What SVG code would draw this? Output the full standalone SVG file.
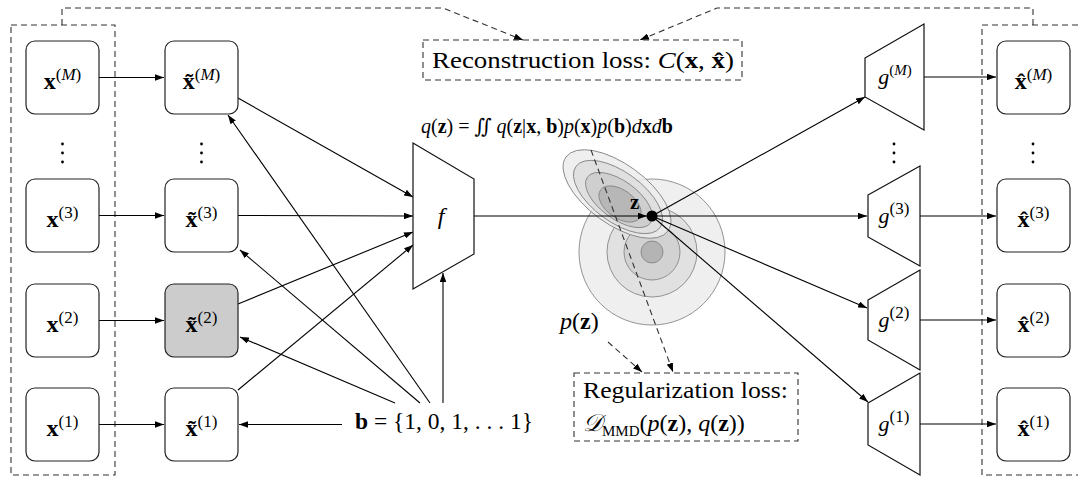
<svg xmlns="http://www.w3.org/2000/svg" width="1078" height="479" viewBox="0 0 1078 479">
<style>
text{font-family:"Liberation Serif","DejaVu Serif",serif;fill:#000}
.lbl{font-size:24px}
.sup{font-size:17px}
.gl{font-size:22px}
.gs{font-size:15px}
.b{font-weight:bold}
.i{font-style:italic}
.box{fill:#fff;stroke:#222;stroke-width:1.2}
.sel{fill:#cccccc}
.trap{fill:#fff;stroke:#111;stroke-width:1.2}
.dash{fill:none;stroke:#333;stroke-width:1.1;stroke-dasharray:6 4}
.ln{fill:none;stroke:#000;stroke-width:1.1}
.arr{marker-end:url(#ah)}
.dot{fill:#000}
.dist{stroke:#888;stroke-width:0.9}
</style>
<defs>
<marker id="ah" viewBox="0 0 10 10" refX="10" refY="5" markerWidth="9" markerHeight="6.5" markerUnits="userSpaceOnUse" orient="auto" preserveAspectRatio="none"><path d="M0,0 L10,5 L0,10 z" fill="#000"/></marker>
</defs>

<!-- dashed frames -->
<g id="frames">
<rect class="dash" x="11" y="25" width="104" height="450"/>
<rect class="dash" x="982" y="25" width="130" height="450"/>
</g>

<!-- distributions -->
<g id="pz">
<circle class="dist" cx="652" cy="252" r="73" fill="#efefef"/>
<circle class="dist" cx="652" cy="252" r="45" fill="#e1e1e1"/>
<circle class="dist" cx="652" cy="252" r="28" fill="#d2d2d2"/>
<circle class="dist" cx="652" cy="252" r="11" fill="#b4b4b4"/>
</g>
<g id="qz">
<ellipse class="dist" cx="617" cy="194" rx="63" ry="30" transform="rotate(36 617 194)" fill="#ececec" fill-opacity="0.85"/>
<ellipse class="dist" cx="618" cy="197" rx="52" ry="25" transform="rotate(36 618 197)" fill="#dddddd" fill-opacity="0.85"/>
<ellipse class="dist" cx="619" cy="200" rx="39" ry="19" transform="rotate(36 619 200)" fill="#cbcbcb" fill-opacity="0.85"/>
<ellipse class="dist" cx="620" cy="204" rx="24" ry="14" transform="rotate(36 620 204)" fill="#b3b3b3" fill-opacity="0.85"/>
</g>

<!-- connectors -->
<g id="connectors">
<path class="ln arr" d="M99,77.5 H164"/>
<path class="ln arr" d="M99,215.5 H164"/>
<path class="ln arr" d="M99,320.5 H164"/>
<path class="ln arr" d="M99,424.5 H164"/>
<path class="ln arr" d="M238,98 L413,197"/>
<path class="ln arr" d="M238,215.5 L413,216"/>
<path class="ln arr" d="M238,304 L413,232"/>
<path class="ln arr" d="M238,390 L413,245"/>
<path class="ln arr" d="M443,403 V273"/>
<path class="ln arr" d="M430,403 L228,115"/>
<path class="ln arr" d="M420,403 L240,250"/>
<path class="ln arr" d="M395,403 L240,337"/>
<path class="ln arr" d="M342,424.5 H239"/>
<path class="ln arr" d="M474,216 H647"/>
<path class="ln arr" d="M652,216 L865,97"/>
<path class="ln arr" d="M652,216 L867,216"/>
<path class="ln arr" d="M652,216 L867,308"/>
<path class="ln arr" d="M652,216 L868,402"/>
<path class="ln arr" d="M924,77 H996"/>
<path class="ln arr" d="M920,216 H996"/>
<path class="ln arr" d="M920,320 H996"/>
<path class="ln arr" d="M920,424 H996"/>
<path class="dash arr" d="M62,25 V8 H443 L523,40"/>
<path class="dash arr" d="M1033,25 V8 H717 L640,40"/>
<path class="dash arr" d="M591,150 L673,372"/>
<path class="dash arr" d="M608,342 L642,372"/>
</g>

<g id="z">
<circle cx="652" cy="216" r="5.5" fill="#000"/>
<text class="b" x="630" y="209" font-size="21">z</text>
</g>

<!-- input nodes -->
<g id="xM"><rect class="box" x="26" y="41" width="73" height="73" rx="9"/><text class="lbl" x="62.5" y="89" text-anchor="middle"><tspan class="b">x</tspan><tspan class="sup" dy="-9">(</tspan><tspan class="sup i">M</tspan><tspan class="sup">)</tspan></text></g>
<g id="x3"><rect class="box" x="26" y="179" width="73" height="73" rx="9"/><text class="lbl" x="62.5" y="227" text-anchor="middle"><tspan class="b">x</tspan><tspan class="sup" dy="-9">(3)</tspan></text></g>
<g id="x2"><rect class="box" x="26" y="284" width="73" height="73" rx="9"/><text class="lbl" x="62.5" y="332" text-anchor="middle"><tspan class="b">x</tspan><tspan class="sup" dy="-9">(2)</tspan></text></g>
<g id="x1"><rect class="box" x="26" y="388" width="73" height="73" rx="9"/><text class="lbl" x="62.5" y="436" text-anchor="middle"><tspan class="b">x</tspan><tspan class="sup" dy="-9">(1)</tspan></text></g>
<g id="xdots"><circle class="dot" cx="62.5" cy="144" r="1.4"/><circle class="dot" cx="62.5" cy="153" r="1.4"/><circle class="dot" cx="62.5" cy="162" r="1.4"/></g>

<!-- masked nodes -->
<g id="txM"><rect class="box" x="165" y="41" width="73" height="73" rx="9"/><text class="lbl" x="201.5" y="89" text-anchor="middle"><tspan class="b">x̃</tspan><tspan class="sup" dy="-9">(</tspan><tspan class="sup i">M</tspan><tspan class="sup">)</tspan></text></g>
<g id="tx3"><rect class="box" x="165" y="179" width="73" height="73" rx="9"/><text class="lbl" x="201.5" y="227" text-anchor="middle"><tspan class="b">x̃</tspan><tspan class="sup" dy="-9">(3)</tspan></text></g>
<g id="tx2"><rect class="box sel" x="165" y="284" width="73" height="73" rx="9"/><text class="lbl" x="201.5" y="332" text-anchor="middle"><tspan class="b">x̃</tspan><tspan class="sup" dy="-9">(2)</tspan></text></g>
<g id="tx1"><rect class="box" x="165" y="388" width="73" height="73" rx="9"/><text class="lbl" x="201.5" y="436" text-anchor="middle"><tspan class="b">x̃</tspan><tspan class="sup" dy="-9">(1)</tspan></text></g>
<g id="txdots"><circle class="dot" cx="201.5" cy="144" r="1.4"/><circle class="dot" cx="201.5" cy="153" r="1.4"/><circle class="dot" cx="201.5" cy="162" r="1.4"/></g>

<!-- encoder -->
<g id="f"><polygon class="trap" points="413,143 474,179 474,254 413,289"/><text class="lbl i" x="441" y="224" text-anchor="middle">f</text></g>

<!-- decoders -->
<g id="gM"><polygon class="trap" points="865,58 924,24 924,130 865,97"/><text class="gl" x="895" y="84" text-anchor="middle"><tspan class="i">g</tspan><tspan class="gs" dy="-9">(</tspan><tspan class="gs i">M</tspan><tspan class="gs">)</tspan></text></g>
<g id="g3"><polygon class="trap" points="868,195 920,166 920,266 868,237"/><text class="gl" x="894" y="223" text-anchor="middle"><tspan class="i">g</tspan><tspan class="sup" dy="-9">(3)</tspan></text></g>
<g id="g2"><polygon class="trap" points="868,300 920,270 920,370 868,340"/><text class="gl" x="894" y="327" text-anchor="middle"><tspan class="i">g</tspan><tspan class="sup" dy="-9">(2)</tspan></text></g>
<g id="g1"><polygon class="trap" points="868,403 920,373 920,475 868,445"/><text class="gl" x="894" y="431" text-anchor="middle"><tspan class="i">g</tspan><tspan class="sup" dy="-9">(1)</tspan></text></g>
<g id="gdots"><circle class="dot" cx="894" cy="144" r="1.4"/><circle class="dot" cx="894" cy="153" r="1.4"/><circle class="dot" cx="894" cy="162" r="1.4"/></g>

<!-- outputs -->
<g id="hxM"><rect class="box" x="997" y="41" width="73" height="73" rx="9"/><text class="lbl" x="1033.5" y="89" text-anchor="middle"><tspan class="b">x̂</tspan><tspan class="sup" dy="-9">(</tspan><tspan class="sup i">M</tspan><tspan class="sup">)</tspan></text></g>
<g id="hx3"><rect class="box" x="997" y="179" width="73" height="73" rx="9"/><text class="lbl" x="1033.5" y="227" text-anchor="middle"><tspan class="b">x̂</tspan><tspan class="sup" dy="-9">(3)</tspan></text></g>
<g id="hx2"><rect class="box" x="997" y="284" width="73" height="73" rx="9"/><text class="lbl" x="1033.5" y="332" text-anchor="middle"><tspan class="b">x̂</tspan><tspan class="sup" dy="-9">(2)</tspan></text></g>
<g id="hx1"><rect class="box" x="997" y="388" width="73" height="73" rx="9"/><text class="lbl" x="1033.5" y="436" text-anchor="middle"><tspan class="b">x̂</tspan><tspan class="sup" dy="-9">(1)</tspan></text></g>
<g id="hxdots"><circle class="dot" cx="1033" cy="144" r="1.4"/><circle class="dot" cx="1033" cy="153" r="1.4"/><circle class="dot" cx="1033" cy="162" r="1.4"/></g>

<!-- loss boxes and labels -->
<g id="recon"><rect class="dash" x="423" y="40" width="319" height="40"/><text class="lbl" x="432" y="68" textLength="302" lengthAdjust="spacingAndGlyphs">Reconstruction loss: <tspan class="i">C</tspan>(<tspan class="b">x</tspan>, <tspan class="b">x̂</tspan>)</text></g>
<g id="reg"><rect class="dash" x="574" y="373" width="224" height="68"/><text class="lbl" x="583" y="398" textLength="205" lengthAdjust="spacingAndGlyphs">Regularization loss:</text><text class="lbl" x="583" y="431"><tspan class="i">𝒟</tspan><tspan font-size="15" dy="5">MMD</tspan><tspan dy="-5">(</tspan><tspan class="i">p</tspan>(<tspan class="b">z</tspan>), <tspan class="i">q</tspan>(<tspan class="b">z</tspan>))</text></g>
<g id="qformula"><text x="421" y="133" font-size="20"><tspan class="i">q</tspan>(<tspan class="b">z</tspan>) = ∬ <tspan class="i">q</tspan>(<tspan class="b">z</tspan>|<tspan class="b">x</tspan>, <tspan class="b">b</tspan>)<tspan class="i">p</tspan>(<tspan class="b">x</tspan>)<tspan class="i">p</tspan>(<tspan class="b">b</tspan>)<tspan class="i">d</tspan><tspan class="b">x</tspan><tspan class="i">d</tspan><tspan class="b">b</tspan></text></g>
<g id="pzlabel"><text class="lbl" x="560" y="329"><tspan class="i">p</tspan>(<tspan class="b">z</tspan>)</text></g>
<g id="b"><text class="lbl" x="355" y="429" textLength="178" lengthAdjust="spacingAndGlyphs"><tspan class="b">b</tspan> = {1, 0, 1, . . . 1}</text></g>
</svg>
